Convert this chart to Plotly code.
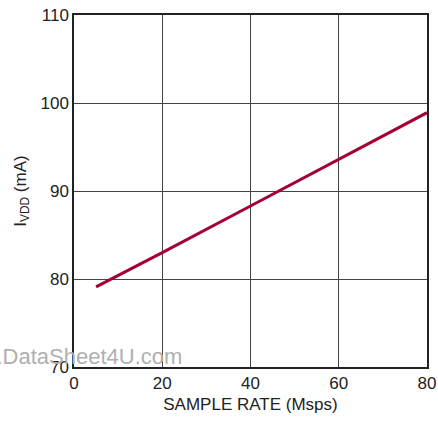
import plotly.graph_objects as go

sample_rate = [5, 20, 40, 60, 80]
ivdd = [79.1, 83.0, 88.3, 93.6, 98.9]
x_ticks = [0, 20, 40, 60, 80]
y_ticks = [70, 80, 90, 100, 110]

FONT = "Liberation Sans Narrow, Arial Narrow, Liberation Sans, Arial, sans-serif"

fig = go.Figure()
fig.add_trace(go.Scatter(x=sample_rate, y=ivdd, mode="lines",
                         line=dict(color="#A50034", width=3)))

fig.update_layout(
    width=438, height=423,
    margin=dict(l=74, r=11, t=15, b=56, autoexpand=False),
    paper_bgcolor="white", plot_bgcolor="white",
    showlegend=False,
    font=dict(family=FONT, size=17, color="#222"),
    xaxis=dict(range=[0, 80], tickvals=x_ticks, showgrid=True, gridcolor="#444", gridwidth=1,
               showline=True, linecolor="#222", linewidth=1.5, mirror=True, zeroline=False,
               ticks="", ticklen=0, automargin=False,
               title=dict(text="SAMPLE RATE (Msps)", font=dict(size=17), standoff=6)),
    yaxis=dict(range=[70, 110], tickvals=y_ticks, showgrid=True, gridcolor="#444", gridwidth=1,
               showline=True, linecolor="#222", linewidth=1.5, mirror=True, zeroline=False,
               ticks="", ticklen=0, automargin=False,
               title=dict(text="I<sub>VDD</sub> (mA)", font=dict(size=17), standoff=10)),
)

fig.add_annotation(text="www.DataSheet4U.com", xref="paper", yref="paper",
                   x=0.311, y=0.031, xanchor="right", yanchor="middle",
                   showarrow=False, font=dict(family="Liberation Sans, Arial, sans-serif", size=22, color="#b0b0b0"))

fig.write_html("out.html", config={"displayModeBar": False},
               post_script="document.body.style.margin='0';")
